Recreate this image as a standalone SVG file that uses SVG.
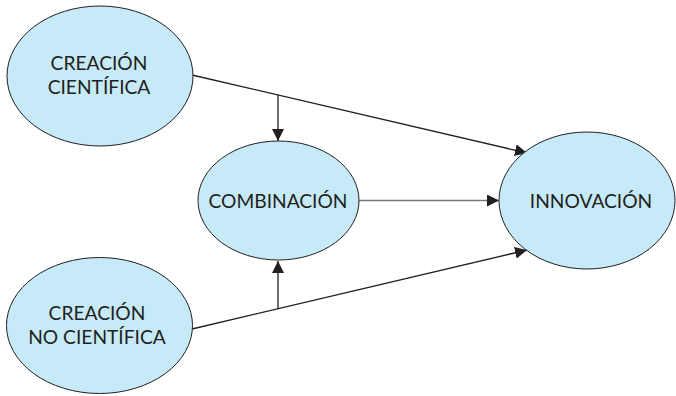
<svg xmlns="http://www.w3.org/2000/svg" width="676" height="396" viewBox="0 0 676 396">
<defs>
<style>
.node{fill:#c6eaf8;stroke:#231f20;stroke-width:1}
.lbl{font-family:Lato,"Noto Sans",sans-serif;font-size:19.2px;fill:#231f20;text-anchor:middle}
.con{fill:none;stroke:#231f20;stroke-width:1.3}
</style>
<marker id="ah" viewBox="0 0 10 10" refX="10" refY="5" markerWidth="12" markerHeight="12" markerUnits="userSpaceOnUse" orient="auto">
<path d="M0,0 L10,5 L0,10 z" fill="#231f20"/>
</marker>
</defs>
<rect width="676" height="396" fill="#fff"/>
<g id="connectors">
<polyline class="con" points="192,75 527,153" marker-end="url(#ah)"/>
<line class="con" x1="278" y1="95" x2="278" y2="141" marker-end="url(#ah)"/>
<polyline class="con" points="192,329 527,250" marker-end="url(#ah)"/>
<line class="con" x1="278" y1="309" x2="278" y2="261" marker-end="url(#ah)"/>
<line class="con" x1="359" y1="200.5" x2="499" y2="200.5" style="stroke:#777;stroke-width:1.5" marker-end="url(#ah)"/>
</g>
<g id="creacion-cientifica">
<ellipse class="node" cx="100" cy="76" rx="93" ry="70"/>
<text class="lbl" x="99" y="70">CREACIÓN<tspan x="99" dy="24">CIENTÍFICA</tspan></text>
</g>
<g id="creacion-no-cientifica">
<ellipse class="node" cx="99.5" cy="325.5" rx="93" ry="68"/>
<text class="lbl" x="97" y="320">CREACIÓN<tspan x="97" dy="24">NO CIENTÍFICA</tspan></text>
</g>
<g id="combinacion">
<ellipse class="node" cx="278.5" cy="200.5" rx="80.5" ry="59.5"/>
<text class="lbl" x="278" y="208">COMBINACIÓN</text>
</g>
<g id="innovacion">
<ellipse class="node" cx="587" cy="200.5" rx="88" ry="68.5"/>
<text class="lbl" x="591" y="208">INNOVACIÓN</text>
</g>
</svg>
